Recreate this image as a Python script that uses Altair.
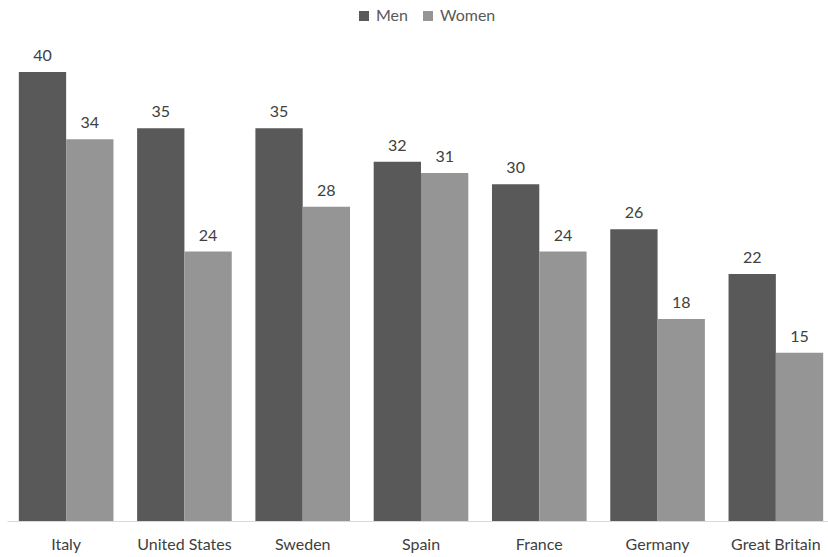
import altair as alt
import pandas as pd

countries = ["Italy", "United States", "Sweden", "Spain", "France", "Germany", "Great Britain"]
men = [40, 35, 35, 32, 30, 26, 22]
women = [34, 24, 28, 31, 24, 18, 15]
series = ["Men", "Women"]

rows = []
for c, m, w in zip(countries, men, women):
    rows.append({"country": c, "gender": "Men", "value": m})
    rows.append({"country": c, "gender": "Women", "value": w})
df = pd.DataFrame(rows)

FONT = "Lato"

x = alt.X("country:N", sort=countries, title=None,
          scale=alt.Scale(range=[0, 828], paddingInner=0.2, paddingOuter=0.1),
          axis=alt.Axis(labelAngle=0, ticks=False, domainColor="#d9d9d9", domainWidth=1,
                        labelFontSize=16, labelColor="#404040", labelFont=FONT,
                        labelPadding=15, grid=False))
xo = alt.XOffset("gender:N", sort=series)
y = alt.Y("value:Q", scale=alt.Scale(domain=[0, 40]), axis=None)

bars = alt.Chart(df).mark_bar().encode(
    x=x, xOffset=xo, y=y,
    color=alt.Color("gender:N", sort=series,
                    scale=alt.Scale(domain=series, range=["#595959", "#959595"]),
                    legend=alt.Legend(title=None, orient="none", direction="horizontal",
                                      legendX=349, legendY=-64, symbolType="square",
                                      symbolSize=100, symbolStrokeWidth=0,
                                      labelFontSize=16, labelColor="#595959", labelFont=FONT,
                                      columnPadding=12, symbolOffset=0, labelOffset=4)),
)

labels = alt.Chart(df).mark_text(baseline="bottom", dy=-8, fontSize=16, color="#404040", font=FONT).encode(
    x=x, xOffset=xo, y=y, text="value:Q"
)

chart = alt.layer(bars, labels).properties(
    width=821, height=449,
    autosize=alt.AutoSizeParams(type="none"),
    padding={"left": 7, "top": 72, "right": 0, "bottom": 36},
).configure(font=FONT, background="white").configure_view(strokeWidth=0, stroke="transparent")

chart.save("out.html", embed_options={"renderer": "svg", "actions": False})
